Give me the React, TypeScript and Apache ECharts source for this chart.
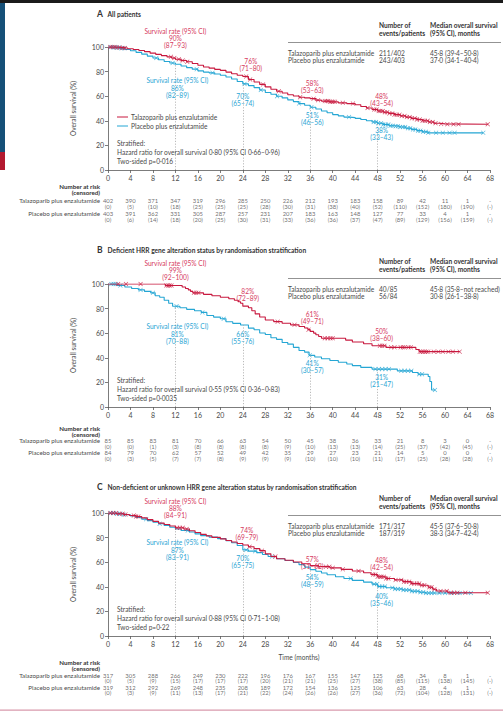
import React, { useEffect, useRef } from 'react';
import * as echarts from 'echarts';

// ---------- shared categories / ticks ----------
const MONTH_TICKS = [0, 4, 8, 12, 16, 20, 24, 28, 32, 36, 40, 44, 48, 52, 56, 60, 64, 68];
const RATE_MONTHS = [12, 24, 36, 48];
const ARM_NAMES = ['Talazoparib plus enzalutamide', 'Placebo plus enzalutamide'];

// ---------- Panel A: all patients ----------
const A_TALA = [[0,100],[1.5,99.6],[2.5,99.2],[3.5,98.6],[4.5,98.0],[5.5,97.2],[6.5,96.2],[7.5,95.0],[8.5,94.0],[9.5,93.0],[10.5,92.0],[11.3,91.0],[12,90.0],[13,89.0],[14,88.0],[15,86.6],[16,85.2],[17,83.8],[18,82.8],[19,81.8],[20,81.0],[21,79.6],[22,78.2],[23,77.0],[24,76.0],[25,73.6],[26,71.6],[27,69.6],[28,67.6],[29,65.6],[30,64.0],[31,62.6],[32,61.2],[33,60.2],[34,59.2],[35,58.6],[36,58.0],[37,56.8],[38,56.0],[39.5,55.4],[41,54.6],[42.5,54.0],[44,53.0],[45,51.6],[46,50.4],[47,49.2],[48,48.0],[49,47.0],[50,46.0],[51,45.0],[52,44.0],[53,43.0],[54,42.0],[55,41.0],[56,40.0],[57,39.0],[58,38.0],[59,37.5],[60,37.2],[67.6,37.2]];
const A_PLAC = [[0,100],[1,99.6],[2,99.0],[3,98.0],[4,97.0],[5,95.6],[6,94.2],[7,92.6],[8,91.0],[9,89.6],[10,88.2],[11,87.0],[12,86.0],[13,84.6],[14,83.2],[15,82.0],[16,80.6],[17,79.6],[18,79.0],[19,78.0],[20,77.0],[21,75.6],[22,74.0],[23,72.0],[24,70.0],[25,68.6],[26,67.0],[27,65.0],[28,63.0],[29,61.6],[30,60.0],[31,58.6],[32,57.0],[33,55.6],[34,54.0],[35,52.6],[36,51.0],[37,49.6],[38,48.0],[39,46.6],[40,45.0],[41,44.0],[42,43.0],[43,42.6],[44,42.0],[45,41.0],[46,40.0],[47,39.0],[48,38.0],[49,37.0],[50,36.0],[51,35.6],[52,35.0],[53,34.0],[54,33.0],[55,32.0],[56,31.0],[57,30.2],[66.8,30.2]];
const A_TALA_CENSOR = [0.4,0.8,1.2,1.6,2.1,2.6,3.0,11.2,11.8,12.6,13.3,14.1,24.6,25.3,27.6,30.4,34.2,36.6,37.4,38.6,38.9,39.2,39.5,39.8,40.1,40.4,41.8,43.6,46.2,47.4,47.8,48.2,48.5,48.9,49.3,49.7,50.1,50.6,51.0,51.4,51.9,52.3,52.8,53.2,53.7,54.1,54.6,55.0,55.5,56.0,56.4,56.9,57.3,57.8,58.3,59.3,60.4,61.5,62.4,67.6];
const A_PLAC_CENSOR = [0.5,1.0,1.4,1.9,2.4,2.9,8.6,11.5,15.8,18.6,24.3,27.2,30.1,34.0,36.2,42.9,47.3,47.7,48.1,48.6,49.0,49.4,49.9,50.3,50.7,51.2,51.6,52.0,52.5,52.9,53.4,53.8,54.3,54.7,55.2,55.6,56.1,56.6,57.0,58.4,59.6,60.8,61.7,66.8];
const A_TALA_RISK = [402,390,371,347,319,296,285,250,226,212,193,183,158,89,42,11,1,null];
const A_TALA_CENS = [0,5,10,18,25,25,25,28,30,31,38,40,52,110,152,180,190,null];
const A_PLAC_RISK = [403,391,362,331,305,287,257,231,207,183,163,148,127,77,33,4,1,null];
const A_PLAC_CENS = [0,6,14,18,20,25,30,31,33,36,36,37,47,89,129,156,159,null];
const A_TALA_RATES = ['90%','76%','58%','48%'];
const A_TALA_CI = ['(87–93)','(71–80)','(53–63)','(43–54)'];
const A_PLAC_RATES = ['86%','70%','51%','38%'];
const A_PLAC_CI = ['(82–89)','(65–74)','(46–56)','(33–43)'];
const A_EVENTS = ['211/402','243/403'];
const A_MEDIANS = ['45·8 (39·4–50·8)','37·0 (34·1–40·4)'];
const A_STATS = ['Stratified:','Hazard ratio for overall survival 0·80 (95% CI 0·66–0·96)','Two-sided p=0·016'];

// ---------- Panel B: deficient HRR ----------
const B_TALA = [[0,100],[10.2,98.8],[13.2,97.6],[13.8,96.4],[14.3,95.2],[14.7,94.0],[15.1,92.8],[17.0,91.6],[18.5,90.4],[20.0,89.2],[21.5,88.0],[22.5,86.8],[23.2,85.6],[23.6,84.3],[24.0,82.0],[25.0,80.7],[25.6,78.2],[26.2,75.7],[27.0,73.2],[28.0,70.7],[29.5,69.4],[31.0,68.1],[32.5,66.8],[34.0,65.5],[35.0,64.2],[35.6,62.9],[36.0,61.5],[36.6,60.1],[37.0,58.7],[37.5,57.3],[38.0,55.9],[42.3,54.4],[43.5,52.9],[45.5,51.4],[47.0,49.8],[49.5,48.5],[54.8,46.8],[55.4,45.0],[62.6,45.0]];
const B_PLAC = [[0,100],[1.6,98.8],[3.0,97.6],[4.2,96.4],[5.4,95.2],[6.5,94.0],[7.6,92.8],[8.4,90.4],[9.2,89.2],[10.0,86.8],[10.8,84.3],[11.5,81.9],[12.8,80.7],[14.0,79.4],[15.4,78.2],[16.6,76.9],[17.6,74.4],[18.8,73.1],[20.0,71.8],[21.0,69.3],[22.2,68.0],[23.6,66.7],[25.0,64.1],[26.0,62.8],[27.0,60.2],[28.0,58.9],[29.0,56.3],[30.0,55.0],[31.0,52.4],[32.0,51.1],[33.0,48.5],[34.0,45.9],[35.0,44.6],[35.8,42.0],[36.8,40.6],[38.0,39.2],[39.5,37.8],[41.0,36.4],[42.5,35.0],[43.5,33.6],[45.0,32.2],[47.0,30.8],[51.5,29.4],[54.2,28.0],[55.2,26.6],[57.0,24.8],[57.3,20.7],[57.6,13.8],[58.2,13.8]];
const B_TALA_CENSOR = [1.8,3.2,5.8,10.4,10.7,11.0,11.3,15.3,15.7,16.1,30.2,33.2,35.7,38.6,39.1,39.6,40.0,48.4,48.8,49.2,50.4,51.0,52.1,52.5,52.8,53.5,53.9,55.5,55.8,56.1,56.4,56.7,57.0,58.0,58.8,59.6,60.6,61.4,62.6];
const B_PLAC_CENSOR = [0.6,1.0,1.4,2.2,5.8,8.0,12.2,16.8,20.6,35.9,47.6,48.2,48.8,49.4,50.0,52.2,52.8,53.4,54.0,55.4,55.9,58.2];
const B_TALA_RISK = [85,85,83,81,70,66,63,54,50,45,38,36,33,21,8,3,0,null];
const B_TALA_CENS = [0,0,1,3,8,8,8,8,9,10,13,13,14,25,37,42,45,null];
const B_PLAC_RISK = [84,79,70,62,57,52,49,42,35,29,27,23,21,14,5,0,0,null];
const B_PLAC_CENS = [0,3,5,7,7,8,9,9,9,10,10,10,11,17,25,28,28,null];
const B_TALA_RATES = ['99%','82%','61%','50%'];
const B_TALA_CI = ['(92–100)','(72–89)','(49–71)','(38–60)'];
const B_PLAC_RATES = ['81%','66%','41%','31%'];
const B_PLAC_CI = ['(70–88)','(55–76)','(30–57)','(21–47)'];
const B_EVENTS = ['40/85','56/84'];
const B_MEDIANS = ['45·8 (35·8–not reached)','30·8 (26·1–38·8)'];
const B_STATS = ['Stratified:','Hazard ratio for overall survival 0·55 (95% CI 0·36–0·83)','Two-sided p=0·0035'];

// ---------- Panel C: non-deficient or unknown HRR ----------
const C_TALA = [[0,100],[1.5,99.4],[2.8,98.8],[3.8,98.0],[5.0,97.2],[6.0,96.0],[7.0,94.6],[8.0,93.2],[9.0,91.8],[10.0,90.6],[11.0,89.4],[12.0,88.0],[13.5,87.0],[14.5,85.6],[15.5,84.2],[16.5,82.6],[17.5,81.4],[18.5,80.2],[20.0,79.0],[21.0,77.6],[22.0,76.4],[23.0,75.2],[24.0,74.0],[25.0,72.6],[26.0,71.0],[27.0,69.4],[28.0,66.8],[29.0,64.6],[30.0,62.8],[31.5,61.6],[33.0,60.2],[34.5,58.8],[36.0,57.2],[37.5,56.4],[39.5,55.4],[41.5,54.2],[43.5,52.8],[45.5,51.4],[46.8,50.0],[48.0,48.2],[49.5,46.8],[51.0,45.6],[52.5,44.2],[54.0,42.6],[55.5,41.2],[57.0,39.6],[57.8,38.0],[58.5,36.6],[60.5,35.2],[67.6,35.2]];
const C_PLAC = [[0,100],[1.5,99.4],[2.8,98.6],[4.0,97.6],[5.0,96.4],[6.0,95.0],[7.0,93.8],[8.0,92.6],[9.0,91.2],[10.0,89.8],[11.0,88.4],[12.0,87.0],[13.0,85.8],[14.5,84.6],[15.5,83.0],[16.5,81.6],[18.0,80.4],[19.5,79.2],[21.0,77.4],[22.0,75.8],[23.0,73.6],[24.0,70.0],[25.0,69.0],[26.5,67.8],[27.5,66.2],[28.5,64.6],[30.0,62.8],[31.5,61.4],[33.0,59.8],[34.0,58.0],[35.0,56.0],[36.0,54.0],[37.0,52.6],[38.0,51.2],[39.0,49.8],[40.5,48.2],[42.0,46.8],[43.5,45.2],[45.5,43.8],[47.0,42.2],[48.0,40.2],[49.5,39.2],[51.0,38.2],[52.5,37.4],[54.0,36.4],[55.5,35.6],[56.5,35.0],[64.6,35.0]];
const C_TALA_CENSOR = [0.4,0.9,1.4,2.0,2.6,3.1,4.6,5.0,5.4,12.3,12.8,13.3,14.0,25.2,27.4,29.8,37.2,38.8,39.4,40.0,41.8,44.6,47.2,47.6,48.0,48.4,48.7,49.1,49.5,49.9,51.2,52.2,52.7,53.1,53.6,54.0,54.5,55.0,55.4,55.9,56.3,57.2,57.6,58.1,59.2,60.3,61.0,61.6,62.2,63.6,67.6];
const C_PLAC_CENSOR = [0.5,1.0,1.6,2.2,2.8,6.8,9.2,14.2,24.6,26.2,29.2,43.2,47.4,47.9,48.3,48.8,49.3,50.6,51.1,51.6,52.1,52.6,53.1,53.6,54.1,54.6,55.1,55.6,56.1,56.6,57.1,57.6,58.1,59.0,60.0,61.2,62.6,64.6];
const C_TALA_RISK = [317,305,288,266,249,230,222,196,176,167,155,147,125,68,34,8,1,null];
const C_TALA_CENS = [0,5,9,15,17,17,17,20,21,21,25,27,38,85,115,138,145,null];
const C_PLAC_RISK = [319,312,292,269,248,235,208,189,172,154,136,125,106,63,28,4,1,null];
const C_PLAC_CENS = [0,3,9,11,13,17,21,22,24,26,26,27,36,72,104,128,131,null];
const C_TALA_RATES = ['88%','74%','57%','48%'];
const C_TALA_CI = ['(84–91)','(69–79)','(51–62)','(42–54)'];
const C_PLAC_RATES = ['87%','70%','54%','40%'];
const C_PLAC_CI = ['(83–91)','(65–75)','(48–59)','(35–46)'];
const C_EVENTS = ['171/317','187/319'];
const C_MEDIANS = ['45·5 (37·6–50·8)','38·3 (34·7–42·4)'];
const C_STATS = ['Stratified:','Hazard ratio for overall survival 0·88 (95% CI 0·71–1·08)','Two-sided p=0·22'];

// ---------- styling ----------
const FONT = 'Lato, "Noto Sans", sans-serif';
const RED = '#c8193f';
const RED_TEXT = '#d63a60';
const BLUE = '#25a6d4';
const BLUE_TEXT = '#2aa5d4';
const INK = '#4a4a4a';
const AXIS = '#5a5a5a';
const FS = 6.6;
const FS_RISK = 5.9;
const CROSS = 'path://M1,0L5,4L9,0L10,1L6,5L10,9L9,10L5,6L1,10L0,9L4,5L0,1Z';
// row positions in the number-at-risk block (count, censored, count, censored)
const RISK_ROWS = [0, 1, 2.15, 3.15];

const PLOT_LEFT = 108;
const PLOT_RIGHT = 490;
const X_MAX = 68;
const xPix = (t: number) => PLOT_LEFT + (t / X_MAX) * (PLOT_RIGHT - PLOT_LEFT);

function survivalAt(curve: number[][], t: number): number {
  let v = curve[0][1];
  for (const [ti, vi] of curve) {
    if (ti <= t + 1e-9) v = vi;
  }
  return v;
}

type PanelData = {
  letter: string; title: string;
  tala: number[][]; plac: number[][];
  talaCens: number[]; placCens: number[];
  talaRisk: (number | null)[]; talaCensored: (number | null)[];
  placRisk: (number | null)[]; placCensored: (number | null)[];
  talaRates: string[]; talaCI: string[]; placRates: string[]; placCI: string[];
  events: string[]; medians: string[]; stats: string[];
};

type PanelLayout = {
  titleY: number; plotTop: number; plotBottom: number;
  riskHeadY: number; riskTop: number; riskRowStep: number;
  redLabelY: number[]; blueLabelY: number[]; labelDx: number[];
  legend: boolean; timeName: boolean;
};

function text(x: number, y: number, s: string, o: any = {}) {
  return {
    type: 'text', silent: true, z: 10,
    style: {
      x, y, text: s,
      fill: o.fill || INK,
      font: `${o.bold ? 'bold ' : ''}${o.size || FS}px ${FONT}`,
      textAlign: o.align || 'left',
      textVerticalAlign: 'middle',
    },
  };
}

export default function App() {
  const ref = useRef<HTMLDivElement>(null);

  useEffect(() => {
    document.body.style.margin = '0';
    if (!ref.current) return;
    const chart = echarts.init(ref.current, undefined, { renderer: 'svg' });

    const panels: PanelData[] = [
      { letter: 'A', title: 'All patients', tala: A_TALA, plac: A_PLAC, talaCens: A_TALA_CENSOR, placCens: A_PLAC_CENSOR,
        talaRisk: A_TALA_RISK, talaCensored: A_TALA_CENS, placRisk: A_PLAC_RISK, placCensored: A_PLAC_CENS,
        talaRates: A_TALA_RATES, talaCI: A_TALA_CI, placRates: A_PLAC_RATES, placCI: A_PLAC_CI,
        events: A_EVENTS, medians: A_MEDIANS, stats: A_STATS },
      { letter: 'B', title: 'Deficient HRR gene alteration status by randomisation stratification', tala: B_TALA, plac: B_PLAC,
        talaCens: B_TALA_CENSOR, placCens: B_PLAC_CENSOR,
        talaRisk: B_TALA_RISK, talaCensored: B_TALA_CENS, placRisk: B_PLAC_RISK, placCensored: B_PLAC_CENS,
        talaRates: B_TALA_RATES, talaCI: B_TALA_CI, placRates: B_PLAC_RATES, placCI: B_PLAC_CI,
        events: B_EVENTS, medians: B_MEDIANS, stats: B_STATS },
      { letter: 'C', title: 'Non-deficient or unknown HRR gene alteration status by randomisation stratification', tala: C_TALA, plac: C_PLAC,
        talaCens: C_TALA_CENSOR, placCens: C_PLAC_CENSOR,
        talaRisk: C_TALA_RISK, talaCensored: C_TALA_CENS, placRisk: C_PLAC_RISK, placCensored: C_PLAC_CENS,
        talaRates: C_TALA_RATES, talaCI: C_TALA_CI, placRates: C_PLAC_RATES, placCI: C_PLAC_CI,
        events: C_EVENTS, medians: C_MEDIANS, stats: C_STATS },
    ];

    const layouts: PanelLayout[] = [
      { titleY: 14, plotTop: 47, plotBottom: 170, riskHeadY: 186.5, riskTop: 200.5, riskRowStep: 6,
        redLabelY: [45, 68, 90, 103], blueLabelY: [95, 103, 122, 137], labelDx: [0, 8, 2, 4], legend: true, timeName: false },
      { titleY: 250, plotTop: 284, plotBottom: 407, riskHeadY: 428, riskTop: 440.5, riskRowStep: 5.8,
        redLabelY: [277, 298, 321, 338], blueLabelY: [341, 341, 370, 384], labelDx: [0, 5, 2, 4], legend: false, timeName: false },
      { titleY: 487, plotTop: 513, plotBottom: 636, riskHeadY: 662.5, riskTop: 675, riskRowStep: 5.6,
        redLabelY: [515, 537, 566, 567], blueLabelY: [557, 565, 584, 603], labelDx: [0, 4, 2, 4], legend: false, timeName: true },
    ];

    const grid: any[] = [];
    const xAxis: any[] = [];
    const yAxis: any[] = [];
    const series: any[] = [];
    const graphic: any[] = [
      { type: 'rect', silent: true, shape: { x: 0, y: 0, width: 503, height: 3 }, style: { fill: '#1b1b1b' } },
      { type: 'rect', silent: true, shape: { x: 0, y: 3, width: 5, height: 149 }, style: { fill: '#155078' } },
      { type: 'rect', silent: true, shape: { x: 0, y: 152, width: 5, height: 18 }, style: { fill: '#b3192f' } },
      { type: 'rect', silent: true, shape: { x: 0, y: 709.5, width: 503, height: 1.2 }, style: { fill: '#d99aac' } },
    ];

    const rowMax = RISK_ROWS[RISK_ROWS.length - 1];

    panels.forEach((p, i) => {
      const L = layouts[i];
      const gi = i * 2;
      grid.push({ left: PLOT_LEFT, width: PLOT_RIGHT - PLOT_LEFT, top: L.plotTop, height: L.plotBottom - L.plotTop });
      grid.push({ left: PLOT_LEFT, width: PLOT_RIGHT - PLOT_LEFT, top: L.riskTop, height: rowMax * L.riskRowStep });

      xAxis.push({
        type: 'value', gridIndex: gi, min: 0, max: X_MAX, interval: 4,
        axisLine: { show: true, lineStyle: { color: AXIS, width: 0.8 } },
        axisTick: { show: true, length: 3, lineStyle: { color: AXIS, width: 0.8 } },
        axisLabel: { fontSize: 7, color: INK, fontFamily: FONT, margin: 4 },
        splitLine: { show: false },
        name: L.timeName ? 'Time (months)' : '',
        nameLocation: 'middle', nameGap: 17,
        nameTextStyle: { fontSize: FS, color: INK, fontFamily: FONT },
      });
      xAxis.push({ type: 'value', gridIndex: gi + 1, min: 0, max: X_MAX, show: false });

      yAxis.push({
        type: 'value', gridIndex: gi, min: 0, max: 100, interval: 20,
        axisLine: { show: true, lineStyle: { color: AXIS, width: 0.8 } },
        axisTick: { show: true, length: 3, lineStyle: { color: AXIS, width: 0.8 } },
        axisLabel: { fontSize: 7, color: INK, fontFamily: FONT, margin: 4 },
        splitLine: { show: false },
        name: 'Overall survival (%)', nameLocation: 'middle', nameGap: 32,
        nameTextStyle: { fontSize: FS, color: INK, fontFamily: FONT },
      });
      yAxis.push({
        type: 'value', gridIndex: gi + 1, min: 0, max: rowMax, inverse: true,
        axisLine: { show: false }, axisTick: { show: false }, splitLine: { show: false }, axisLabel: { show: false },
      });

      // dotted reference lines at the landmark months
      series.push({
        type: 'line', xAxisIndex: gi, yAxisIndex: gi, data: [], silent: true,
        markLine: {
          silent: true, symbol: ['none', 'none'], label: { show: false },
          lineStyle: { type: [1.2, 1.6], color: '#a8a8a8', width: 0.8 },
          data: RATE_MONTHS.map((t) => [{ coord: [t, 0] }, { coord: [t, survivalAt(p.plac, t)] }]),
        },
      });

      const curve = (data: number[][], color: string, z: number) => ({
        type: 'line', xAxisIndex: gi, yAxisIndex: gi, data, step: 'end', symbol: 'none', showSymbol: false,
        lineStyle: { color, width: 1.1 }, itemStyle: { color }, silent: true, z,
      });
      const censor = (curveData: number[][], times: number[], color: string, z: number) => ({
        type: 'scatter', xAxisIndex: gi, yAxisIndex: gi, symbol: CROSS, symbolSize: 4.5, silent: true, z,
        itemStyle: { color },
        data: times.map((t) => [t, survivalAt(curveData, t)]),
      });
      series.push(curve(p.plac, BLUE, 3));
      series.push(censor(p.plac, p.placCens, BLUE, 4));
      series.push(curve(p.tala, RED, 5));
      series.push(censor(p.tala, p.talaCens, RED, 6));

      // numbers at risk (censored) below the time axis
      const rows: any[] = [];
      const push = (vals: (number | null)[], row: number, wrap: boolean) => {
        vals.forEach((v, k) => {
          const s = v === null ? (wrap ? '(-)' : '-') : wrap ? `(${v})` : `${v}`;
          rows.push({ name: s, value: [MONTH_TICKS[k], row] });
        });
      };
      push(p.talaRisk, RISK_ROWS[0], false);
      push(p.talaCensored, RISK_ROWS[1], true);
      push(p.placRisk, RISK_ROWS[2], false);
      push(p.placCensored, RISK_ROWS[3], true);
      series.push({
        type: 'scatter', xAxisIndex: gi + 1, yAxisIndex: gi + 1, symbolSize: 1, silent: true,
        itemStyle: { color: 'rgba(0,0,0,0)' },
        label: { show: true, position: 'inside', formatter: '{b}', fontSize: FS_RISK, color: INK, fontFamily: FONT },
        data: rows,
      });
      // arm names for the at-risk rows
      graphic.push(text(100, L.riskTop, ARM_NAMES[0], { align: 'right', size: 6.2 }));
      graphic.push(text(100, L.riskTop + RISK_ROWS[2] * L.riskRowStep, ARM_NAMES[1], { align: 'right', size: 6.2 }));

      // panel title
      graphic.push(text(97, L.titleY, p.letter, { bold: true, size: 8.5, fill: '#333' }));
      graphic.push(text(107.5, L.titleY, p.title, { bold: true, size: 6.6, fill: '#333' }));

      // events / median table
      const ty = L.titleY;
      graphic.push(text(379, ty + 11, 'Number of', { bold: true, fill: '#333' }));
      graphic.push(text(379, ty + 18.5, 'events/patients', { bold: true, fill: '#333' }));
      graphic.push(text(430, ty + 11, 'Median overall survival', { bold: true, fill: '#333' }));
      graphic.push(text(430, ty + 18.5, '(95% CI), months', { bold: true, fill: '#333' }));
      graphic.push({ type: 'line', silent: true, shape: { x1: 288, y1: ty + 28.5, x2: 501, y2: ty + 28.5 }, style: { stroke: '#777', lineWidth: 0.8 } });
      ARM_NAMES.forEach((n, k) => {
        const yy = ty + 38.5 + k * 7;
        graphic.push(text(288, yy, n));
        graphic.push(text(379, yy, p.events[k]));
        graphic.push(text(430, yy, p.medians[k]));
      });

      // survival-rate annotations
      RATE_MONTHS.forEach((t, k) => {
        const x = xPix(t) + L.labelDx[k];
        const ry = L.redLabelY[k];
        const by = L.blueLabelY[k];
        graphic.push(text(x, ry, p.talaCI[k], { fill: RED_TEXT, align: 'center' }));
        graphic.push(text(x, ry - 7, p.talaRates[k], { fill: RED_TEXT, align: 'center' }));
        if (k === 0) graphic.push(text(x, ry - 14, 'Survival rate (95% CI)', { fill: RED_TEXT, align: 'center' }));
        const bx = k === 0 ? x + 2 : x - (k === 1 ? L.labelDx[1] : 0);
        graphic.push(text(bx, by, p.placCI[k], { fill: BLUE_TEXT, align: 'center' }));
        graphic.push(text(bx, by - 7.5, p.placRates[k], { fill: BLUE_TEXT, align: 'center' }));
        if (k === 0) graphic.push(text(bx, by - 15, 'Survival rate (95% CI)', { fill: BLUE_TEXT, align: 'center' }));
      });

      // hazard ratio block
      p.stats.forEach((s, k) => {
        graphic.push(text(117, L.plotBottom - 27 + k * 9, s));
      });

      // legend (panel A only)
      if (L.legend) {
        [RED, BLUE].forEach((c, k) => {
          const yy = L.plotBottom - 53 + k * 9;
          graphic.push({ type: 'line', silent: true, shape: { x1: 117, y1: yy, x2: 128, y2: yy }, style: { stroke: c, lineWidth: 1 } });
          graphic.push(text(131, yy, ARM_NAMES[k]));
        });
      }

      // number-at-risk heading
      graphic.push(text(100, L.riskHeadY, 'Number at risk', { bold: true, align: 'right', fill: '#333', size: 6.2 }));
      graphic.push(text(100, L.riskHeadY + 6, '(censored)', { bold: true, align: 'right', fill: '#333', size: 6.2 }));
    });

    chart.setOption({
      animation: false,
      backgroundColor: '#ffffff',
      textStyle: { fontFamily: FONT },
      grid, xAxis, yAxis, series, graphic,
    });

    return () => chart.dispose();
  }, []);

  return <div ref={ref} style={{ width: 503, height: 715 }} />;
}
